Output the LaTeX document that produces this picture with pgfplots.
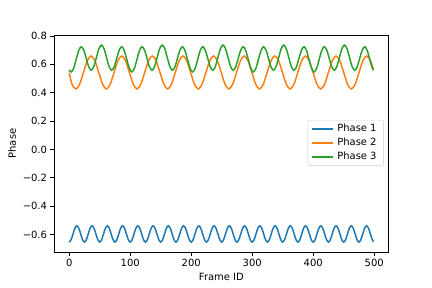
\documentclass[border=0pt]{standalone}
\usepackage{fontspec}
\setmainfont{DejaVu Sans}
\usepackage{pgfplots}
\pgfplotsset{compat=1.18}
\definecolor{c0}{HTML}{1F77B4}
\definecolor{c1}{HTML}{FF7F0E}
\definecolor{c2}{HTML}{2CA02C}
\begin{document}
\fontsize{10}{12}\selectfont
\begin{tikzpicture}
\path[use as bounding box] (-54bp,-36bp) rectangle (378bp,252bp);
\begin{axis}[
  at={(0,0)}, anchor=south west,
  scale only axis, width=334.8bp, height=217bp,
  xmin=-24.95, xmax=523.95, ymin=-0.724, ymax=0.807,
  xtick={0,100,200,300,400,500},
  ytick={-0.6,-0.4,-0.2,0,0.2,0.4,0.6,0.8},
  yticklabels={−0.6,−0.4,−0.2,0.0,0.2,0.4,0.6,0.8},
  tick pos=left, tick align=outside,
  major tick length=3.5bp,
  every tick/.style={black, line width=0.8bp},
  axis line style={line width=0.8bp},
  tick label style={font=\fontsize{10}{12}\selectfont},
  label style={font=\fontsize{10}{12}\selectfont},
  /pgf/number format/assume math mode=true,
  xlabel={Frame ID}, ylabel={Phase},
  legend style={at={(0.985,0.503)}, anchor=east, draw=black!20, rounded corners=2bp,
    font=\fontsize{10}{12}\selectfont, row sep=3bp, inner xsep=3bp, inner ysep=3bp,
    nodes={inner xsep=4bp, inner ysep=1bp}},
  legend cell align=left,
  legend image code/.code={\draw[#1, line width=1.5bp] (0bp,0bp) -- (21bp,0bp);},
  every axis plot/.append style={line width=1.5bp, smooth},
]
\addplot[color=c0] coordinates {
(0,-0.654)(3.125,-0.6372)(6.25,-0.5965)(9.375,-0.5558)(12.5,-0.539)(15.625,-0.5558)(18.75,-0.5965)(21.875,-0.6372)
(25,-0.654)(28.125,-0.6372)(31.25,-0.5965)(34.375,-0.5558)(37.5,-0.539)(40.625,-0.5558)(43.75,-0.5965)(46.875,-0.6372)
(50,-0.654)(53.125,-0.6372)(56.25,-0.5965)(59.375,-0.5558)(62.5,-0.539)(65.625,-0.5558)(68.75,-0.5965)(71.875,-0.6372)
(75,-0.654)(78.125,-0.6372)(81.25,-0.5965)(84.375,-0.5558)(87.5,-0.539)(90.625,-0.5558)(93.75,-0.5965)(96.875,-0.6372)
(100,-0.654)(103.125,-0.6372)(106.25,-0.5965)(109.375,-0.5558)(112.5,-0.539)(115.625,-0.5558)(118.75,-0.5965)(121.875,-0.6372)
(125,-0.654)(128.125,-0.6372)(131.25,-0.5965)(134.375,-0.5558)(137.5,-0.539)(140.625,-0.5558)(143.75,-0.5965)(146.875,-0.6372)
(150,-0.654)(153.125,-0.6372)(156.25,-0.5965)(159.375,-0.5558)(162.5,-0.539)(165.625,-0.5558)(168.75,-0.5965)(171.875,-0.6372)
(175,-0.654)(178.125,-0.6372)(181.25,-0.5965)(184.375,-0.5558)(187.5,-0.539)(190.625,-0.5558)(193.75,-0.5965)(196.875,-0.6372)
(200,-0.654)(203.125,-0.6372)(206.25,-0.5965)(209.375,-0.5558)(212.5,-0.539)(215.625,-0.5558)(218.75,-0.5965)(221.875,-0.6372)
(225,-0.654)(228.125,-0.6372)(231.25,-0.5965)(234.375,-0.5558)(237.5,-0.539)(240.625,-0.5558)(243.75,-0.5965)(246.875,-0.6372)
(250,-0.654)(253.125,-0.6372)(256.25,-0.5965)(259.375,-0.5558)(262.5,-0.539)(265.625,-0.5558)(268.75,-0.5965)(271.875,-0.6372)
(275,-0.654)(278.125,-0.6372)(281.25,-0.5965)(284.375,-0.5558)(287.5,-0.539)(290.625,-0.5558)(293.75,-0.5965)(296.875,-0.6372)
(300,-0.654)(303.125,-0.6372)(306.25,-0.5965)(309.375,-0.5558)(312.5,-0.539)(315.625,-0.5558)(318.75,-0.5965)(321.875,-0.6372)
(325,-0.654)(328.125,-0.6372)(331.25,-0.5965)(334.375,-0.5558)(337.5,-0.539)(340.625,-0.5558)(343.75,-0.5965)(346.875,-0.6372)
(350,-0.654)(353.125,-0.6372)(356.25,-0.5965)(359.375,-0.5558)(362.5,-0.539)(365.625,-0.5558)(368.75,-0.5965)(371.875,-0.6372)
(375,-0.654)(378.125,-0.6372)(381.25,-0.5965)(384.375,-0.5558)(387.5,-0.539)(390.625,-0.5558)(393.75,-0.5965)(396.875,-0.6372)
(400,-0.654)(403.125,-0.6372)(406.25,-0.5965)(409.375,-0.5558)(412.5,-0.539)(415.625,-0.5558)(418.75,-0.5965)(421.875,-0.6372)
(425,-0.654)(428.125,-0.6372)(431.25,-0.5965)(434.375,-0.5558)(437.5,-0.539)(440.625,-0.5558)(443.75,-0.5965)(446.875,-0.6372)
(450,-0.654)(453.125,-0.6372)(456.25,-0.5965)(459.375,-0.5558)(462.5,-0.539)(465.625,-0.5558)(468.75,-0.5965)(471.875,-0.6372)
(475,-0.654)(478.125,-0.6372)(481.25,-0.5965)(484.375,-0.5558)(487.5,-0.539)(490.625,-0.5558)(493.75,-0.5965)(496.875,-0.6372)
(499,-0.652)
};
\addlegendentry{Phase 1}
\addplot[color=c1] coordinates {
(0,0.54)(4.525,0.4601)
(10.8,0.426)(17.075,0.4601)(23.35,0.5425)(29.625,0.6249)(35.9,0.659)(42.175,0.6249)(48.45,0.5425)(54.725,0.4601)
(61,0.426)(67.275,0.4601)(73.55,0.5425)(79.825,0.6249)(86.1,0.659)(92.375,0.6249)(98.65,0.5425)(104.925,0.4601)
(111.2,0.426)(117.475,0.4601)(123.75,0.5425)(130.025,0.6249)(136.3,0.659)(142.575,0.6249)(148.85,0.5425)(155.125,0.4601)
(161.4,0.426)(167.675,0.4601)(173.95,0.5425)(180.225,0.6249)(186.5,0.659)(192.775,0.6249)(199.05,0.5425)(205.325,0.4601)
(211.6,0.426)(217.875,0.4601)(224.15,0.5425)(230.425,0.6249)(236.7,0.659)(242.975,0.6249)(249.25,0.5425)(255.525,0.4601)
(261.8,0.426)(268.075,0.4601)(274.35,0.5425)(280.625,0.6249)(286.9,0.659)(293.175,0.6249)(299.45,0.5425)(305.725,0.4601)
(312,0.426)(318.275,0.4601)(324.55,0.5425)(330.825,0.6249)(337.1,0.659)(343.375,0.6249)(349.65,0.5425)(355.925,0.4601)
(362.2,0.426)(368.475,0.4601)(374.75,0.5425)(381.025,0.6249)(387.3,0.659)(393.575,0.6249)(399.85,0.5425)(406.125,0.4601)
(412.4,0.426)(418.675,0.4601)(424.95,0.5425)(431.225,0.6249)(437.5,0.659)(443.775,0.6249)(450.05,0.5425)(456.325,0.4601)
(462.6,0.426)(468.875,0.4601)(475.15,0.5425)(481.425,0.6249)(487.7,0.659)(493.975,0.6249)
(499,0.56)
};
\addlegendentry{Phase 2}
\addplot[color=c2] coordinates {
(0,0.561)(3.1,0.546)(7.25,0.5718)(11.4,0.6341)(15.55,0.6968)(19.7,0.724)(23.85,0.7004)(28,0.641)(32.15,0.5816)(36.3,0.558)(40.45,0.5852)(44.6,0.6479)(48.75,0.7102)
(52.9,0.736)(57.05,0.7102)(61.2,0.6479)(65.35,0.5852)(69.5,0.558)(73.65,0.5816)(77.8,0.641)(81.95,0.7004)(86.1,0.724)(90.25,0.6968)(94.4,0.6341)(98.55,0.5718)
(102.7,0.546)(106.85,0.5718)(111,0.6341)(115.15,0.6968)(119.3,0.724)(123.45,0.7004)(127.6,0.641)(131.75,0.5816)(135.9,0.558)(140.05,0.5852)(144.2,0.6479)(148.35,0.7102)
(152.5,0.736)(156.65,0.7102)(160.8,0.6479)(164.95,0.5852)(169.1,0.558)(173.25,0.5816)(177.4,0.641)(181.55,0.7004)(185.7,0.724)(189.85,0.6968)(194,0.6341)(198.15,0.5718)
(202.3,0.546)(206.45,0.5718)(210.6,0.6341)(214.75,0.6968)(218.9,0.724)(223.05,0.7004)(227.2,0.641)(231.35,0.5816)(235.5,0.558)(239.65,0.5852)(243.8,0.6479)(247.95,0.7102)
(252.1,0.736)(256.25,0.7102)(260.4,0.6479)(264.55,0.5852)(268.7,0.558)(272.85,0.5816)(277,0.641)(281.15,0.7004)(285.3,0.724)(289.45,0.6968)(293.6,0.6341)(297.75,0.5718)
(301.9,0.546)(306.05,0.5718)(310.2,0.6341)(314.35,0.6968)(318.5,0.724)(322.65,0.7004)(326.8,0.641)(330.95,0.5816)(335.1,0.558)(339.25,0.5852)(343.4,0.6479)(347.55,0.7102)
(351.7,0.736)(355.85,0.7102)(360,0.6479)(364.15,0.5852)(368.3,0.558)(372.45,0.5816)(376.6,0.641)(380.75,0.7004)(384.9,0.724)(389.05,0.6968)(393.2,0.6341)(397.35,0.5718)
(401.5,0.546)(405.65,0.5718)(409.8,0.6341)(413.95,0.6968)(418.1,0.724)(422.25,0.7004)(426.4,0.641)(430.55,0.5816)(434.7,0.558)(438.85,0.5852)(443,0.6479)(447.15,0.7102)
(451.3,0.736)(455.45,0.7102)(459.6,0.6479)(463.75,0.5852)(467.9,0.558)(472.05,0.5816)(476.2,0.641)(480.35,0.7004)(484.5,0.724)(488.65,0.6968)(492.8,0.6341)(496.95,0.5718)
(499,0.56)
};
\addlegendentry{Phase 3}
\end{axis}
\end{tikzpicture}
\end{document}
